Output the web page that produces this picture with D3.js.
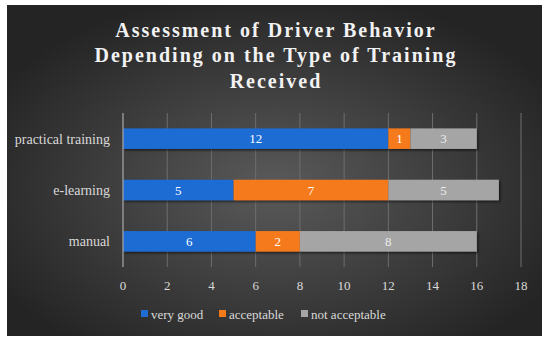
<!DOCTYPE html>
<html>
<head>
<meta charset="utf-8">
<script src="https://cdn.jsdelivr.net/npm/d3@7"></script>
<style>
  body { margin: 0; background: #fff; }
  text { font-family: "Liberation Serif", "DejaVu Serif", serif; }
</style>
</head>
<body>
<div id="chart"></div>
<script>
// data
var categories = ['practical training', 'e-learning', 'manual'];
var seriesNames = ['very good', 'acceptable', 'not acceptable'];
var veryGood = [12, 5, 6];
var acceptable = [1, 7, 2];
var notAcceptable = [3, 5, 8];
var xTicks = [0, 2, 4, 6, 8, 10, 12, 14, 16, 18];
var titleLines = ['Assessment of Driver Behavior', 'Depending on the Type of Training', 'Received'];

var W = 550, H = 342;
var margin = {top: 113, right: 29, bottom: 75, left: 123};
var width = W - margin.left - margin.right,
    height = H - margin.top - margin.bottom;

var colors = d3.scaleOrdinal().domain(seriesNames).range(['#1f6cd3', '#f57a1c', '#a5a5a5']);

var rows = categories.map(function(c, i) {
  return {cat: c, 'very good': veryGood[i], 'acceptable': acceptable[i], 'not acceptable': notAcceptable[i]};
});
var stacked = d3.stack().keys(seriesNames)(rows);

var svg = d3.select('#chart').append('svg')
    .attr('width', W).attr('height', H);

var defs = svg.append('defs');
var bg = defs.append('radialGradient').attr('id', 'bg')
    .attr('cx', '50%').attr('cy', '55%').attr('r', '60%');
bg.append('stop').attr('offset', '0%').attr('stop-color', '#5a5a5a');
bg.append('stop').attr('offset', '100%').attr('stop-color', '#242424');

var shadow = defs.append('filter').attr('id', 'shadow')
    .attr('x', '-10%').attr('y', '-30%').attr('width', '130%').attr('height', '180%');
shadow.append('feDropShadow').attr('dx', 1.5).attr('dy', 1.5).attr('stdDeviation', 1)
    .attr('flood-color', '#000').attr('flood-opacity', 0.6);

// chart background
svg.append('rect')
    .attr('x', 7).attr('y', 5).attr('width', 535).attr('height', 331)
    .attr('fill', 'url(#bg)');

// title (letter-spacing also trails the last glyph, so nudge right by half of it)
svg.append('g').selectAll('text')
    .data(titleLines).enter().append('text')
    .attr('x', 275 + 1)
    .attr('y', function(d, i) { return 37 + i * 25.3; })
    .attr('text-anchor', 'middle')
    .attr('fill', '#f2f2f2')
    .style('font-size', '20px')
    .style('font-weight', 'bold')
    .style('letter-spacing', '2px')
    .text(function(d) { return d; });

var g = svg.append('g')
    .attr('transform', 'translate(' + margin.left + ',' + margin.top + ')');

var x = d3.scaleLinear().domain([0, 18]).range([0, width]);
var y = d3.scaleBand().domain(categories).range([0, height]).paddingInner(0.6).paddingOuter(0.3);

// gridlines
g.selectAll('.grid')
    .data(xTicks.slice(1)).enter().append('line')
    .attr('x1', function(d) { return x(d); })
    .attr('x2', function(d) { return x(d); })
    .attr('y1', 0).attr('y2', height)
    .attr('stroke', '#6e6e6e').attr('stroke-width', 1);

// bars
var layer = g.selectAll('.layer')
    .data(stacked).enter().append('g')
    .attr('fill', function(d) { return colors(d.key); });

layer.selectAll('rect')
    .data(function(d) { return d; }).enter().append('rect')
    .attr('x', function(d) { return x(d[0]); })
    .attr('width', function(d) { return x(d[1]) - x(d[0]); })
    .attr('y', function(d) { return y(d.data.cat); })
    .attr('height', y.bandwidth())
    .attr('filter', 'url(#shadow)');

// value labels
layer.selectAll('text')
    .data(function(d) { return d.map(function(v) { return {v: v, key: d.key}; }); })
    .enter().append('text')
    .attr('x', function(d) { return (x(d.v[0]) + x(d.v[1])) / 2; })
    .attr('y', function(d) { return y(d.v.data.cat) + y.bandwidth() / 2; })
    .attr('dy', '0.35em')
    .attr('text-anchor', 'middle')
    .attr('fill', function(d) { return d.key == 'not acceptable' ? '#ececec' : '#ffffff'; })
    .style('font-size', '13px')
    .text(function(d) { return d.v[1] - d.v[0]; });

// x axis (zero line)
g.append('line')
    .attr('x1', x(0)).attr('x2', x(0))
    .attr('y1', 0).attr('y2', height)
    .attr('stroke', '#a8a8a8').attr('stroke-width', 1.2);

// tick labels
g.selectAll('.tick')
    .data(xTicks).enter().append('text')
    .attr('x', function(d) { return x(d); })
    .attr('y', height + 23)
    .attr('text-anchor', 'middle')
    .attr('fill', '#d9d9d9')
    .style('font-size', '13px')
    .text(function(d) { return d; });

// category labels
g.selectAll('.cat')
    .data(categories).enter().append('text')
    .attr('x', -13)
    .attr('y', function(d) { return y(d) + y.bandwidth() / 2; })
    .attr('dy', '0.35em')
    .attr('text-anchor', 'end')
    .attr('fill', '#d9d9d9')
    .style('font-size', '14px')
    .text(function(d) { return d; });

// legend
var legendX = [141, 219, 301];
var legend = svg.append('g').selectAll('g')
    .data(seriesNames).enter().append('g')
    .attr('transform', function(d, i) { return 'translate(' + legendX[i] + ',314)'; });
legend.append('rect')
    .attr('x', 0).attr('y', -4).attr('width', 7).attr('height', 7)
    .attr('fill', function(d) { return colors(d); });
legend.append('text')
    .attr('x', 10).attr('dy', '0.35em')
    .attr('fill', '#d9d9d9')
    .style('font-size', '13px')
    .text(function(d) { return d; });
</script>
</body>
</html>
